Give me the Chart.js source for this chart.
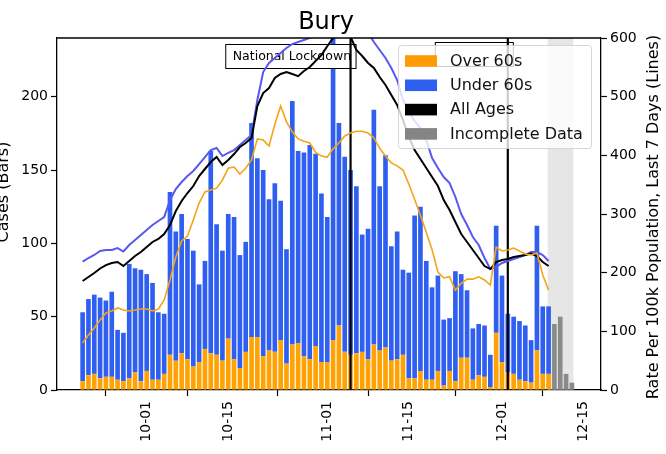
<!DOCTYPE html>
<html><head><meta charset="utf-8">
<script src="https://cdn.jsdelivr.net/npm/chart.js@4.4.0/dist/chart.umd.min.js"></script>
<style>html,body{margin:0;padding:0;background:#fff;overflow:hidden}#wrap{width:666px;height:454px;position:relative}</style>
</head><body><div id="wrap"><canvas id="c" width="666" height="454"></canvas></div>
<script>
// ---- data ----
const dates = ['2020-09-20','2020-09-21','2020-09-22','2020-09-23','2020-09-24','2020-09-25','2020-09-26','2020-09-27','2020-09-28','2020-09-29','2020-09-30',
'2020-10-01','2020-10-02','2020-10-03','2020-10-04','2020-10-05','2020-10-06','2020-10-07','2020-10-08','2020-10-09','2020-10-10','2020-10-11','2020-10-12','2020-10-13','2020-10-14','2020-10-15','2020-10-16','2020-10-17','2020-10-18','2020-10-19','2020-10-20','2020-10-21','2020-10-22','2020-10-23','2020-10-24','2020-10-25','2020-10-26','2020-10-27','2020-10-28','2020-10-29','2020-10-30','2020-10-31',
'2020-11-01','2020-11-02','2020-11-03','2020-11-04','2020-11-05','2020-11-06','2020-11-07','2020-11-08','2020-11-09','2020-11-10','2020-11-11','2020-11-12','2020-11-13','2020-11-14','2020-11-15','2020-11-16','2020-11-17','2020-11-18','2020-11-19','2020-11-20','2020-11-21','2020-11-22','2020-11-23','2020-11-24','2020-11-25','2020-11-26','2020-11-27','2020-11-28','2020-11-29','2020-11-30',
'2020-12-01','2020-12-02','2020-12-03','2020-12-04','2020-12-05','2020-12-06','2020-12-07','2020-12-08','2020-12-09'];
const over60Cases = [6,10,11,8,9,9,7,6,8,12, 6,13,7,7,11,24,20,25,21,16, 19,28,25,24,20,35,21,15,26,36, 36,23,27,26,34,18,31,32,23,21, 30,19,19,34,44,26,24,25,26,21, 31,27,29,20,21,24,8,8,13,7, 7,13,3,13,6,22,22,7,10,9, 2,39,19,12,11,7,6,5,27,11,11];
const under60Cases = [47,52,54,55,52,58,34,33,78,71, 76,66,66,46,41,111,88,95,82,79, 53,60,138,89,75,85,97,77,75,146, 122,127,103,115,95,78,166,131,139,146, 131,115,99,211,138,133,126,114,80,89, 160,112,131,78,87,58,72,111,112,81, 63,65,45,36,75,57,46,35,35,35, 22,73,59,40,39,40,38,29,85,46,46];
const incompleteDates = ['2020-12-10','2020-12-11','2020-12-12','2020-12-13'];
const incompleteCases = [45,50,11,5];
const under60Rate = [218.7,225,230.1,236.9,238.6,238.6,242,236.1,247.1,255.7, 264.2,272.7,281.2,288,294.9,323.8,342.6,354.5,364.7,373.3, 385.2,397.1,409,412.5,398.8,404,409,417.6,426.1,434.6, 494.3,542,557.4,565.9,574.4,583,589.7,593.2,596.6,600, 610,620,630,640,650,650,640,630,620,610, 593.2,579.5,565.9,548.8,528.4,494.3,473.8,458.5,446.5,426.1, 395.4,378.4,363,352.8,329,300,281.2,260.8,247.1,225, 206.2,209.6,216.5,219.9,223.3,226.7,230.1,235.2,235.2,230.1,219.9];
const allAgesRate = [185.8,192.6,199.4,207.1,213,216.5,218.2,211.3,219.9,228.4, 235.2,243.7,252.3,257.4,265.9,281.2,305.1,322.1,335.8,347.7, 364.7,376.7,388.6,397.1,383.5,392,402.2,414.2,421,429.5, 484,506.2,514.7,532,538.6,542,538.6,535,543.7,550.5, 560.8,571,586,600,612,618,602,579.5,569.3,557.4, 548.8,533.5,519.9,502.8,485.8,460.2,431.2,409,393.7,378.4, 363,347.7,323.8,306.8,286.3,265.9,252.3,238.6,225,211.3, 206.2,218.2,221.6,223.3,226.7,228.4,230.1,232.7,228.4,218.2,211.3];
const over60Rate = [80.1,93.7,105.7,119.3,131.2,134.7,139.8,136.4,134.7,136.4, 138.1,138.1,134.7,138.1,153.4,187.5,226.7,254,262.5,289.8, 318.7,337.5,341,344,358,378,380,368,378,392, 428,426,416,453,484,457,440,428,424,421, 405,399,397,411,421,433,438,441,441,438, 430,412,399,387,382,375,351,325,298,269, 239,201,191,193,170,182,189,189,193,187.5, 179,243.7,236.9,238.6,242,236.9,231.8,230.1,233.5,196,170.4];
const xTickDates = ['2020-10-01','2020-10-15','2020-11-01','2020-11-15','2020-12-01','2020-12-15'];
const leftTicks = [0,50,100,150,200];
const rightTicks = [0,100,200,300,400,500,600];
const lockdownDates = ['2020-11-05','2020-12-02'];
const lockdownLabels = ['National Lockdown',''];
const incompleteSpan = ['2020-12-09','2020-12-13'];
const legendLabels = ['Over 60s','Under 60s','All Ages','Incomplete Data'];
const titleText = 'Bury';
const leftTitle = 'Cases (Bars)';
const rightTitle = 'Rate Per 100k Population, Last 7 Days (Lines)';

// ---- helpers ----
const day = s => Date.parse(s + 'T00:00:00Z') / 864e5;
const fmt = v => { const d = new Date(Math.round(v) * 864e5); return String(d.getUTCMonth()+1).padStart(2,'0') + '-' + String(d.getUTCDate()).padStart(2,'0'); };
const FONT = '"DejaVu Sans", sans-serif';
const C_OVER = '#FFA203', C_UNDER = '#2F5FF0', C_GREY = '#8a8a8a';
const C_OVER_LINE = '#F4A417', C_UNDER_LINE = '#5858F0', C_ALL_LINE = '#000000';
const legendColors = ['#FF9A00', C_UNDER, '#000000', '#858585'];
const pts = arr => arr.map((v,i) => ({x: day(dates[i]), y: v}));
const x0 = day(dates[0]);

const decor = {
  id: 'decor',
  beforeDatasetsDraw(chart) {
    const {ctx, chartArea: a, scales: {x}} = chart;
    const sx0 = x.getPixelForValue(day(incompleteSpan[0]) - 0.15);
    const sx1 = x.getPixelForValue(day(incompleteSpan[1]) + 0.25);
    ctx.save();
    ctx.fillStyle = 'rgba(200,200,200,0.45)';
    ctx.fillRect(sx0, a.top, sx1 - sx0, a.bottom - a.top);
    ctx.restore();
    chart.$marksDone = false;
  },
  beforeDatasetDraw(chart, args) {
    if (chart.$marksDone || args.meta.type !== 'line') return;
    chart.$marksDone = true;
    const {ctx, chartArea: a, scales: {x}} = chart;
    ctx.save();
    lockdownDates.forEach((d, i) => {
      const px = x.getPixelForValue(day(d));
      ctx.font = '12.5px ' + FONT;
      const label = lockdownLabels[i];
      const w = label ? ctx.measureText(label).width : 66;
      const top = i === 0 ? 44.5 : 42.5, h = 24;
      ctx.fillStyle = '#ffffff';
      ctx.strokeStyle = '#000';
      ctx.lineWidth = 1;
      ctx.fillRect(px - w - 6.5, top, w + 12, h);
      ctx.strokeRect(px - w - 6.5, top, w + 12, h);
      if (label) {
        ctx.fillStyle = '#000';
        ctx.textAlign = 'right';
        ctx.textBaseline = 'middle';
        ctx.fillText(label, px + 0.5, top + h / 2 + 0.5);
      }
      ctx.beginPath();
      ctx.lineWidth = 2.2;
      ctx.strokeStyle = '#000';
      ctx.moveTo(px, a.top);
      ctx.lineTo(px, a.bottom);
      ctx.stroke();
    });
    ctx.restore();
  },
  afterDatasetsDraw(chart) {
    const {ctx, chartArea: a} = chart;
    ctx.save();
    ctx.strokeStyle = '#000';
    ctx.lineWidth = 1.3;
    ctx.beginPath();
    ctx.moveTo(a.left, a.top); ctx.lineTo(a.right, a.top);
    ctx.stroke();
    const bx = 398.5, by = 45.5, bw = 193, bh = 103, r = 3;
    ctx.beginPath();
    ctx.moveTo(bx + r, by);
    ctx.arcTo(bx + bw, by, bx + bw, by + bh, r);
    ctx.arcTo(bx + bw, by + bh, bx, by + bh, r);
    ctx.arcTo(bx, by + bh, bx, by, r);
    ctx.arcTo(bx, by, bx + bw, by, r);
    ctx.closePath();
    ctx.fillStyle = 'rgba(255,255,255,0.8)';
    ctx.fill();
    ctx.strokeStyle = 'rgba(204,204,204,0.8)';
    ctx.lineWidth = 1;
    ctx.stroke();
    ctx.font = '16px ' + FONT;
    ctx.textBaseline = 'middle';
    ctx.textAlign = 'left';
    legendLabels.forEach((t, i) => {
      const cy = 61 + i * 24.3;
      ctx.fillStyle = legendColors[i];
      ctx.fillRect(405, cy - 5.8, 32, 11.6);
      ctx.fillStyle = '#111';
      ctx.fillText(t, 450, cy + 0.5);
    });
    ctx.restore();
  },
  afterDraw(chart) {
    const {ctx, chartArea: a} = chart;
    ctx.save();
    ctx.fillStyle = '#000';
    ctx.font = '24px ' + FONT;
    ctx.textAlign = 'center';
    ctx.textBaseline = 'alphabetic';
    ctx.fillText(titleText, 326, 29);
    const cy = (a.top + a.bottom) / 2;
    ctx.font = '16px ' + FONT;
    ctx.save();
    ctx.translate(8, 192);
    ctx.rotate(-Math.PI / 2);
    ctx.fillText(leftTitle, 0, 0);
    ctx.restore();
    ctx.save();
    ctx.translate(658, cy + 3);
    ctx.rotate(-Math.PI / 2);
    ctx.fillText(rightTitle, 0, 0);
    ctx.restore();
    ctx.restore();
  }
};

const tickFont = {family: FONT, size: 14};
const axisGrid = {drawOnChartArea: false, drawTicks: true, tickLength: 6, color: '#000', tickWidth: 1.2};

new Chart(document.getElementById('c'), {
  type: 'bar',
  data: {
    datasets: [
      {type: 'line', label: 'Over 60s rate', data: pts(over60Rate), yAxisID: 'y1', borderColor: C_OVER_LINE, borderWidth: 1.6, pointRadius: 0, tension: 0, order: 1, clip: 0},
      {type: 'line', label: 'All Ages rate', data: pts(allAgesRate), yAxisID: 'y1', borderColor: C_ALL_LINE, borderWidth: 2, pointRadius: 0, tension: 0, order: 2, clip: 0},
      {type: 'line', label: 'Under 60s rate', data: pts(under60Rate), yAxisID: 'y1', borderColor: C_UNDER_LINE, borderWidth: 2, pointRadius: 0, tension: 0, order: 3, clip: 0},
      {label: 'Over 60s', data: pts(over60Cases), backgroundColor: C_OVER, yAxisID: 'y', stack: 'cases', order: 10, barPercentage: 0.8, categoryPercentage: 1, clip: 0},
      {label: 'Under 60s', data: pts(under60Cases), backgroundColor: C_UNDER, yAxisID: 'y', stack: 'cases', order: 10, barPercentage: 0.8, categoryPercentage: 1, clip: 0},
      {label: 'Incomplete Data', data: incompleteCases.map((v,i) => ({x: day(incompleteDates[i]), y: v})), backgroundColor: C_GREY, yAxisID: 'y', stack: 'cases', order: 10, barPercentage: 0.8, categoryPercentage: 1, clip: 0}
    ]
  },
  options: {
    responsive: false,
    animation: false,
    devicePixelRatio: 1,
    layout: {padding: {top: 38, left: 0, right: 0, bottom: 0}},
    plugins: {legend: {display: false}, title: {display: false}, tooltip: {enabled: false}},
    scales: {
      x: {
        type: 'linear', min: x0 - 4.4, max: x0 + 89, offset: false, stacked: true,
        grid: axisGrid, border: {display: true, color: '#000', width: 1.3},
        ticks: {font: tickFont, color: '#000', minRotation: 90, maxRotation: 90, autoSkip: false, padding: 5, callback: v => fmt(v)},
        afterBuildTicks: s => { s.ticks = xTickDates.map(d => ({value: day(d)})); },
        afterFit: s => { s.height = 64; }
      },
      y: {
        position: 'left', min: 0, max: 240, stacked: true,
        grid: axisGrid, border: {display: true, color: '#000', width: 1.3},
        ticks: {font: tickFont, color: '#000', padding: 3},
        afterBuildTicks: s => { s.ticks = leftTicks.map(v => ({value: v})); },
        afterFit: s => { s.width = 57; }
      },
      y1: {
        position: 'right', min: 0, max: 600,
        grid: axisGrid, border: {display: true, color: '#000', width: 1.3},
        ticks: {font: tickFont, color: '#000', padding: 3},
        afterBuildTicks: s => { s.ticks = rightTicks.map(v => ({value: v})); },
        afterFit: s => { s.width = 65; }
      }
    }
  },
  plugins: [decor]
});
</script>
</body></html>
